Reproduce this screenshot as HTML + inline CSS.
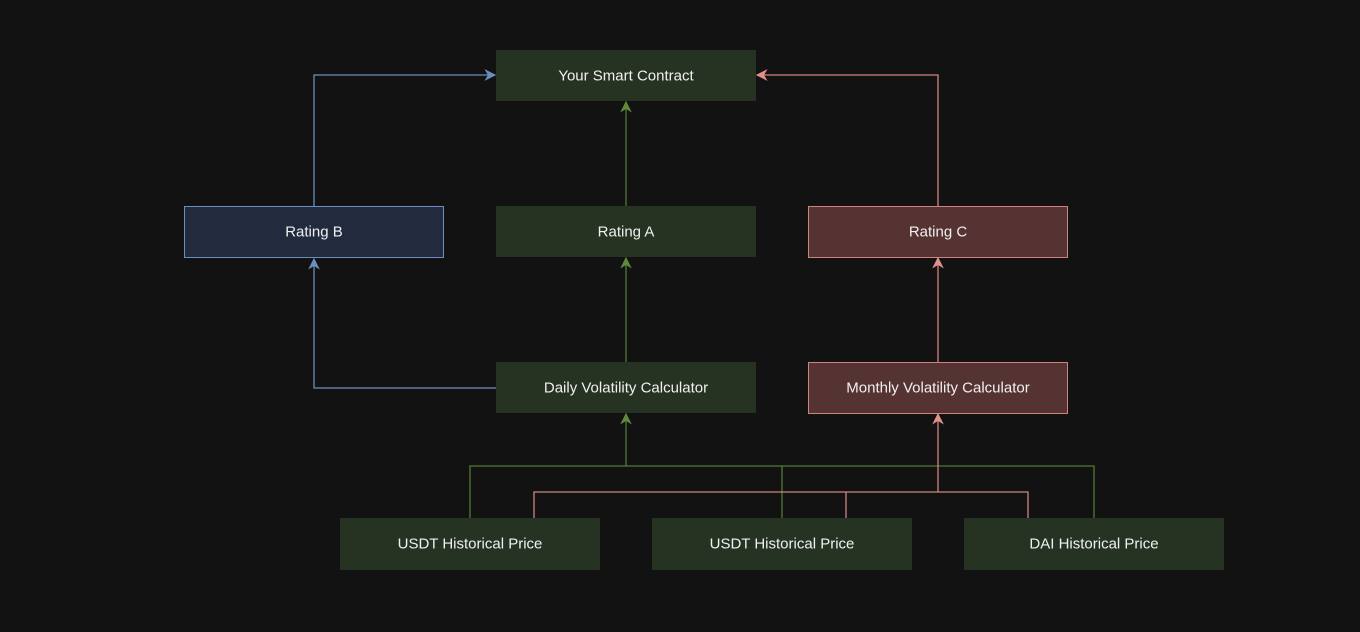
<!DOCTYPE html>
<html><head><style>
html,body{margin:0;padding:0;background:#121212;}
svg{display:block;}
text{font-family:"Liberation Sans",sans-serif;font-size:15px;fill:#f0f0f0;text-anchor:middle;dominant-baseline:central;}
</style></head><body>
<svg width="1360" height="632" viewBox="0 0 1360 632">
<defs>
<marker id="g" viewBox="0 0 10 10" refX="9" refY="5" markerWidth="9" markerHeight="9" orient="auto"><path d="M0,0 L10,5 L0,10 L3,5 z" fill="#5e8a3c"/></marker>
<marker id="r" viewBox="0 0 10 10" refX="9" refY="5" markerWidth="9" markerHeight="9" orient="auto"><path d="M0,0 L10,5 L0,10 L3,5 z" fill="#e0908c"/></marker>
<marker id="b" viewBox="0 0 10 10" refX="9" refY="5" markerWidth="9" markerHeight="9" orient="auto"><path d="M0,0 L10,5 L0,10 L3,5 z" fill="#6c8ebf"/></marker>
</defs>
<g fill="none" stroke-width="1.3">
<path d="M470,518 V466 H1094 V518 M782,466 V518" stroke="#527a35"/>
<path d="M626,466 V414" stroke="#527a35" marker-end="url(#g)"/>
<path d="M534,518 V492 H1028 V518 M846,492 V518" stroke="#d08480"/>
<path d="M938,492 V414" stroke="#d08480" marker-end="url(#r)"/>
<path d="M626,362 V258" stroke="#527a35" marker-end="url(#g)"/>
<path d="M626,206 V102" stroke="#527a35" marker-end="url(#g)"/>
<path d="M938,362 V258" stroke="#d08480" marker-end="url(#r)"/>
<path d="M938,206 V75 H757" stroke="#d08480" marker-end="url(#r)"/>
<path d="M496,388 H314 V259" stroke="#6c8ebf" marker-end="url(#b)"/>
<path d="M314,206 V75 H495" stroke="#6c8ebf" marker-end="url(#b)"/>
</g>
<rect x="496" y="50" width="260" height="51" fill="#263323"/>
<rect x="184.5" y="206.5" width="259" height="51" fill="#212b3d" stroke="#6c8ebf"/>
<rect x="496" y="206" width="260" height="51" fill="#263323"/>
<rect x="808.5" y="206.5" width="259" height="51" fill="#553333" stroke="#d08480"/>
<rect x="496" y="362" width="260" height="51" fill="#263323"/>
<rect x="808.5" y="362.5" width="259" height="51" fill="#553333" stroke="#d08480"/>
<rect x="340" y="518" width="260" height="52" fill="#263323"/>
<rect x="652" y="518" width="260" height="52" fill="#263323"/>
<rect x="964" y="518" width="260" height="52" fill="#263323"/>
<text x="626" y="76">Your Smart Contract</text>
<text x="314" y="232">Rating B</text>
<text x="626" y="232">Rating A</text>
<text x="938" y="232">Rating C</text>
<text x="626" y="388">Daily Volatility Calculator</text>
<text x="938" y="388">Monthly Volatility Calculator</text>
<text x="470" y="544">USDT Historical Price</text>
<text x="782" y="544">USDT Historical Price</text>
<text x="1094" y="544">DAI Historical Price</text>
</svg>
</body></html>
